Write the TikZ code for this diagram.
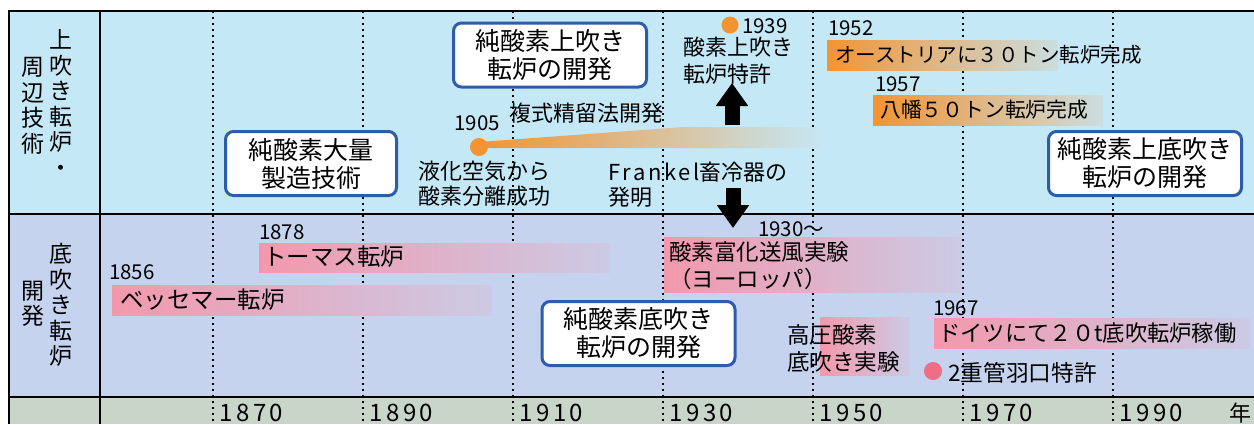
\documentclass[tikz,border=0pt]{standalone}
\usepackage{fontspec}
\setmainfont{Noto Sans CJK JP}
\newfontfamily\spacedfont[LetterSpace=12]{Noto Sans CJK JP}
\newfontfamily\axisfont[LetterSpace=15]{Noto Sans CJK JP}
\usetikzlibrary{arrows.meta}

\definecolor{upperbg}{HTML}{C5E8F7}
\definecolor{lowerbg}{HTML}{C5D3EE}
\definecolor{axisbg}{HTML}{C9D5C8}
\definecolor{boxblue}{HTML}{2D5DA8}
\definecolor{baror}{HTML}{F39433}
\definecolor{barpink}{HTML}{F398AC}
\definecolor{dotpink}{HTML}{EF6E84}

\begin{document}
\begin{tikzpicture}[x=1pt,y=-1pt,
    note/.style={font=\fontsize{22}{25}\selectfont, inner sep=0pt, align=left},
    yr/.style={font=\fontsize{20.5}{23}\selectfont, inner sep=0pt},
    side/.style={font=\fontsize{23}{25.5}\selectfont, inner sep=0pt, align=center},
    devbox/.style={draw=boxblue, line width=3pt, fill=white, rounded corners=8pt,
        minimum width=193pt, minimum height=64pt, inner sep=0pt, align=center,
        font=\fontsize{25}{28}\selectfont},
    bigarrow/.style={line width=15pt, -{Triangle[width=31pt,length=23pt]}},
    yearline/.style={line width=1.5pt, dash pattern=on 1.5pt off 4.5pt},
    pinkbar/.style={left color=barpink, right color=barpink!15!lowerbg},
    orangebar/.style={left color=baror, right color=baror!12!upperbg}]

    \useasboundingbox (0,0) rectangle (1254,424);
    \fill[upperbg] (9,11) rectangle (1254,214);
    \fill[lowerbg] (9,214) rectangle (1254,397);
    \fill[axisbg] (9,397) rectangle (1254,424);

    \foreach \yr [count=\i from 0] in {1870,1890,...,1990} {
        \draw[yearline] ({213+\i*150},11) -- ({213+\i*150},424);
        \node[font=\axisfont\fontsize{24}{26}\selectfont, inner sep=0pt, anchor=west] (ax\yr) at ({219+\i*150},413) {\yr};
    }
    \node[font=\fontsize{22}{25}\selectfont] (nen) at (1240,413) {年};

    % side headings
    \node[side] (up1) at (61,103) {上\\吹\\き\\転\\炉\\・};
    \node[side] (up2) at (33,106) {周\\辺\\技\\術};
    \node[side] (lo1) at (61,305) {底\\吹\\き\\転\\炉};
    \node[side] (lo2) at (33,304) {開\\発};

    % upper band
    \shade[left color=baror, right color=upperbg] (479,142) -- (683,127) -- (827,127) -- (827,148) -- (479,148) -- cycle;
    \node[yr] (y1905) at (477,123) {1905};
    \node[circle, fill=baror, minimum size=18pt, inner sep=0pt] (d1905) at (479,147) {};
    \node[note, anchor=west] (liquid) at (418,184) {液化空気から\\酸素分離成功};
    \node[note] (rect) at (586,113) {複式精留法開発};
    \node[note, anchor=west] (frankel) at (608,185) {{\spacedfont Frankel}畜冷器の\\発明};
    \node[circle, fill=baror, minimum size=17pt, inner sep=0pt] (d1939) at (730,25) {};
    \node[yr, anchor=west] (y1939) at (742,26) {1939};
    \node[note, anchor=west, font=\fontsize{22}{27}\selectfont] (patent) at (683,61) {酸素上吹き\\転炉特許};

    \shade[orangebar] (827,40) rectangle (1058,70);
    \node[yr, anchor=west] (y1952) at (828,28) {1952};
    \node[note, anchor=west, font=\fontsize{20.5}{24}\selectfont] (austria) at (835,55) {オーストリアに３０トン転炉完成};
    \shade[orangebar] (873,95) rectangle (1103,125);
    \node[yr, anchor=west] (y1957) at (875,84) {1957};
    \node[note, anchor=west, font=\fontsize{20.8}{24}\selectfont] (yawata) at (880,110) {八幡５０トン転炉完成};

    \node[devbox] (bopbox) at (550,55) {純酸素上吹き\\転炉の開発};
    \node[devbox, minimum width=171pt] (o2box) at (311,163.5) {純酸素大量\\製造技術};
    \node[devbox] (combox) at (1145,163.5) {純酸素上底吹き\\転炉の開発};

    % lower band
    \shade[pinkbar] (259,243) rectangle (610,272);
    \node[yr, anchor=west] (y1878) at (259,232) {1878};
    \node[note, anchor=west, font=\fontsize{23.5}{26}\selectfont] (thomas) at (263,257) {トーマス転炉};
    \shade[pinkbar] (112,285) rectangle (492,315);
    \node[yr, anchor=west] (y1856) at (109,272) {1856};
    \node[note, anchor=west, font=\fontsize{23.5}{26}\selectfont] (bessemer) at (120,300) {ベッセマー転炉};

    \shade[pinkbar] (664,237) rectangle (962,292);
    \node[yr, anchor=west] (y1930) at (758,229) {1930～};
    \node[note, anchor=west, font=\fontsize{22.5}{27}\selectfont] (enrich) at (669,266) {酸素富化送風実験\\（ヨーロッパ）};

    \shade[pinkbar] (820,317) rectangle (909,375);
    \node[note, anchor=west, font=\fontsize{22.5}{27}\selectfont] (hipress) at (787,348.5) {高圧酸素\\底吹き実験};

    \shade[pinkbar] (934,318) rectangle (1250,348);
    \node[yr, anchor=west] (y1967) at (933,308) {1967};
    \node[note, anchor=west, font=\fontsize{22.3}{26}\selectfont] (germany) at (938,333) {ドイツにて２０t底吹転炉稼働};
    \node[circle, fill=dotpink, minimum size=18pt, inner sep=0pt] (d1967) at (933,371) {};
    \node[note, anchor=west, font=\fontsize{22.7}{26}\selectfont] (tuyere) at (948,373) {2重管羽口特許};

    \node[devbox] (obmbox) at (638.5,333.5) {純酸素底吹き\\転炉の開発};

    \coordinate (upfrom) at (732,125);
    \coordinate (upto) at (732,83);
    \coordinate (downfrom) at (733,188);
    \coordinate (downto) at (733,228);
    \draw[bigarrow] (upfrom) -- (upto);
    \draw[bigarrow] (downfrom) -- (downto);

    % frame
    \draw[line width=2pt] (1254,11) -- (9,11) -- (9,424);
    \draw[line width=2pt] (100,11) -- (100,424);
    \draw[line width=2pt] (9,214) -- (1254,214);
    \draw[line width=2pt] (9,397) -- (1254,397);
\end{tikzpicture}
\end{document}
